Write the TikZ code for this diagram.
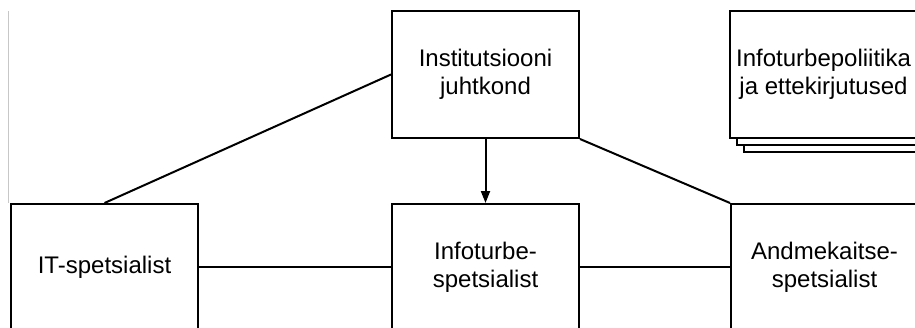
\documentclass[tikz,border=0pt]{standalone}
\usepackage{fontspec}
\setmainfont{Liberation Sans}
\usetikzlibrary{arrows.meta,shadows}
\begin{document}
\begin{tikzpicture}[x=1pt,y=-1pt,
  box/.style={draw=black, line width=2pt, fill=white, minimum width=187pt,
    inner sep=0pt, align=center, anchor=north west,
    font=\fontsize{24}{28}\selectfont},
  toprow/.style={box, minimum height=127pt},
  bottomrow/.style={box, minimum height=126pt},
  link/.style={draw=black, line width=2pt},
  tip/.style={-{Triangle[width=9pt,length=12pt]}},
]
\useasboundingbox (0,0) rectangle (915,327);
\clip (0,0) rectangle (915,327);
\fill[white] (0,0) rectangle (915,327);

% thin grey rule on the left
\draw[black!22, line width=0.8pt] (8,11) -- (8,203);

% management and documents
\node[toprow] (inst) at (391,10) {Institutsiooni\\juhtkond};
\node[toprow, double copy shadow={shadow xshift=7pt, shadow yshift=-7pt}]
  (docs) at (729,10) {Infoturbepoliitika\\ja ettekirjutused};

% specialists
\node[bottomrow] (it)   at (10,203)  {IT-spetsialist};
\node[bottomrow] (info) at (391,203) {Infoturbe-\\spetsialist};
\node[bottomrow] (andm) at (730,203) {Andmekaitse-\\spetsialist};

% connections
\draw[link] (it.north) -- (inst.west);
\draw[link, tip] (inst.south) -- (info.north);
\draw[link] (inst.south east) -- (andm.north west);
\draw[link] (it.east) -- (info.west);
\draw[link] (info.east) -- (andm.west);
\end{tikzpicture}
\end{document}
